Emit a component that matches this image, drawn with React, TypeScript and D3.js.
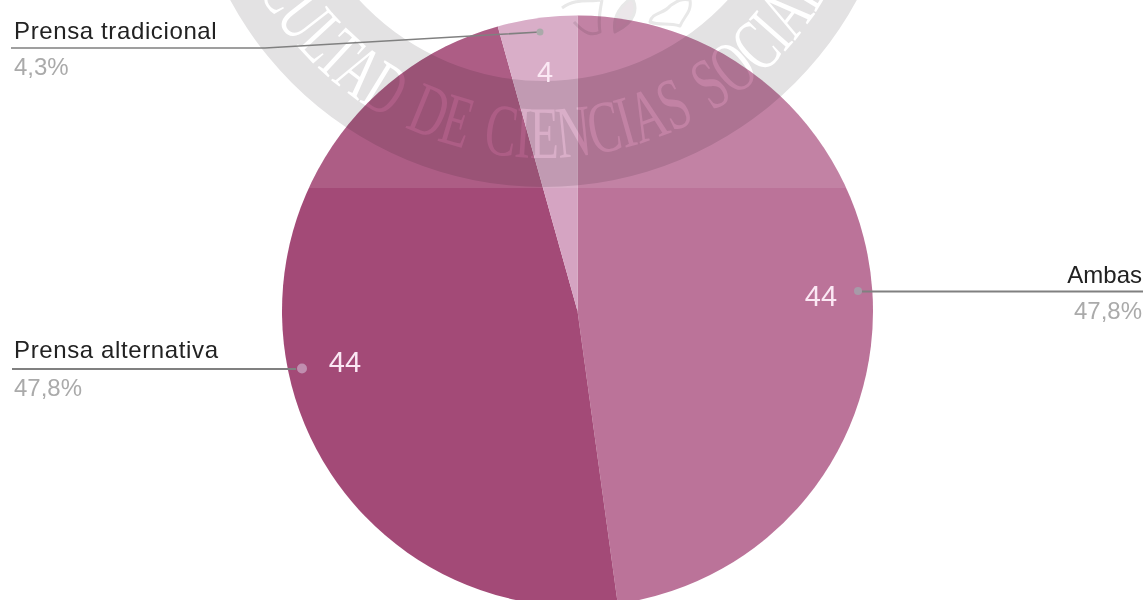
import React from "react";
import * as d3 from "d3";

const categories = ["Ambas", "Prensa alternativa", "Prensa tradicional"];
const values = [44, 44, 4];
const percents = ["47,8%", "47,8%", "4,3%"];
const colors = ["#bb7399", "#a34a77", "#d5a4c2"];
const watermark = "FACULTAD DE CIENCIAS SOCIALES";

const W = 1143, H = 600;
const cx = 577.5, cy = 311, R = 295.5;
const wmX = 543.5, wmY = -169, wmOuter = 356, wmInner = 250, wmBase = 327;
const wmStart = -71, wmEnd = 71;

function ringPath(r: number) {
  return `M ${wmX - r} ${wmY} a ${r} ${r} 0 1 0 ${2 * r} 0 a ${r} ${r} 0 1 0 ${-2 * r} 0 Z`;
}

function basePath() {
  const a0 = (wmStart * Math.PI) / 180;
  const a1 = (wmEnd * Math.PI) / 180;
  const p = (a: number) => `${wmX + wmBase * Math.sin(a)} ${wmY + wmBase * Math.cos(a)}`;
  return `M ${p(a0)} A ${wmBase} ${wmBase} 0 0 0 ${p(a1)}`;
}

export default function App() {
  const pie = d3.pie<number>().sort(null).value((d) => d);
  const arcs = pie(values);
  const arc = d3.arc<d3.PieArcDatum<number>>().innerRadius(0).outerRadius(R);
  const sans = "Arimo, 'Liberation Sans', Arial, sans-serif";
  const valuePos = [[821, 306], [345, 372], [545, 82]];
  const labels: [number, number, number, string, string, string, number][] = [
    [14, 39, 75, categories[2], percents[2], "start", 0.62],
    [14, 358, 396, categories[1], percents[1], "start", 0.62],
    [1142, 283, 319, categories[0], percents[0], "end", 0],
  ];
  const arcLen = ((wmEnd - wmStart) * Math.PI * wmBase) / 180;
  return (
    <svg width={W} height={H} viewBox={`0 0 ${W} ${H}`} style={{ position: "absolute", left: 0, top: 0, background: "#fff" }}>
      <defs>
        <clipPath id="top"><rect x={0} y={0} width={W} height={188} /></clipPath>
        <path id="wmPath" d={basePath()} />
      </defs>
      <g transform={`translate(${cx},${cy})`}>
        {arcs.map((a, i) => (
          <path key={i} d={arc(a) as string} fill={colors[i]} />
        ))}
      </g>
      <circle cx={cx} cy={cy} r={R} fill="#fff" opacity={0.11} clipPath="url(#top)" />
      <g clipPath="url(#top)" style={{ mixBlendMode: "multiply" }}>
        <path fillRule="evenodd" fill="#e3e2e3" d={`${ringPath(wmOuter)} ${ringPath(wmInner)}`} />
        <text fontFamily="'Liberation Serif', serif" fontSize={74} fill="#fff" wordSpacing={10} textLength={arcLen} lengthAdjust="spacingAndGlyphs">
          <textPath href="#wmPath">{watermark}</textPath>
        </text>
        <g fill="none" stroke="#e8e8e8" strokeWidth={3} strokeLinejoin="round">
          <path d="M 562 8 C 575 -2 590 2 600 0 M 574 22 C 585 34 592 36 600 32 C 598 20 600 10 602 0" />
          <path d="M 615 32 C 612 16 622 4 632 -2 C 638 8 636 22 615 32 Z" fill="#ebe6e9" />
          <path d="M 650 22 C 652 12 664 14 670 6 C 676 2 680 -2 690 0 C 692 12 684 16 680 26 C 668 22 660 26 650 22 Z" />
        </g>
      </g>
      {labels.map((d, i) => (
        <g key={i} fontFamily={sans} fontSize={24} textAnchor={d[5]}>
          <text x={d[0]} y={d[1]} fill="#222" letterSpacing={d[6]}>{d[3]}</text>
          <text x={d[0]} y={d[2]} fill="#aaa">{d[4]}</text>
        </g>
      ))}
      <path d="M11 48 H265 L540 32" fill="none" stroke="#808080" strokeWidth={1.7} />
      <path d="M12 369 H296" fill="none" stroke="#808080" strokeWidth={2} />
      <path d="M862 291.5 H1143" fill="none" stroke="#808080" strokeWidth={2} />
      <circle cx={540} cy={32} r={3.5} fill="#aaa" />
      <circle cx={302} cy={368.5} r={5} fill="#c08eaf" />
      <circle cx={858} cy={291} r={4} fill="#a79aa8" />
      {valuePos.map((p, i) => (
        <text key={i} x={p[0]} y={p[1]} fontFamily={sans} fontSize={29} fill="#fbe8f4" textAnchor="middle">
          {values[i]}
        </text>
      ))}
    </svg>
  );
}
